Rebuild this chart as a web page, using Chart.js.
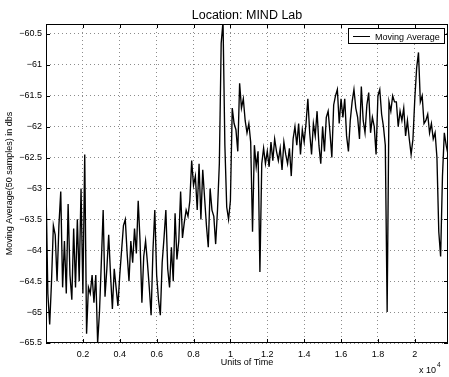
<!DOCTYPE html>
<html>
<head>
<meta charset="utf-8">
<script src="https://cdn.jsdelivr.net/npm/chart.js@4.4.0/dist/chart.umd.min.js"></script>
<style>
  html, body { margin: 0; padding: 0; background: #fff; }
  #wrap { width: 449px; height: 377px; }
</style>
</head>
<body>
<div id="wrap"><canvas id="mindChart" width="449" height="377"></canvas></div>
<script>
const chartTitle = "Location: MIND Lab";
const seriesLabel = "Moving Average";
const xAxisLabel = "Units of Time";
const yAxisLabel = "Moving Average(50 samples) in dbs";

// one reading every 100 samples
const sampleStep = 100;
const movingAverage = [
  -62.95, -64.7, -65.2, -64.5, -63.6, -63.75, -64.5, -63.6, -63.05, -64.6,
  -63.85, -64.7, -63.25, -64.4, -64.8, -63.65, -64.6, -63.5, -64.5, -63.0,
  -64.7, -62.45, -65.35, -64.6, -64.7, -64.4, -64.85, -64.4, -65.5, -65.0,
  -64.2, -63.35, -64.75, -64.3, -63.75, -64.4, -64.95, -64.3, -64.6, -64.9,
  -64.4, -64.0, -63.6, -63.5, -64.05, -64.5, -63.85, -64.2, -63.65, -64.05,
  -63.2, -63.85, -64.85, -64.1, -63.85, -64.2, -64.6, -65.05, -64.0, -63.35,
  -64.4, -64.8, -65.05, -64.2, -63.8, -63.35, -64.3, -64.6, -63.95, -64.5,
  -63.4, -64.15, -63.85, -63.05, -63.8, -63.55, -63.35, -63.45, -63.2, -62.55,
  -62.95, -62.8, -63.35, -62.6, -63.5, -62.7, -63.15, -63.6, -63.95, -63.0,
  -63.35, -63.45, -63.9, -63.35, -62.6, -60.65, -60.3, -62.3, -63.3, -63.5,
  -63.2, -61.7, -61.95, -62.05, -62.4, -61.3, -61.7, -61.55, -61.9, -62.1,
  -61.95, -62.25, -63.7, -62.3, -62.65, -62.4, -64.35, -62.6, -62.35, -62.6,
  -62.4, -62.65, -62.25, -62.55, -62.2, -62.4, -62.55, -62.35, -62.7, -62.25,
  -62.45, -62.6, -62.35, -62.8, -62.2, -62.0, -62.3, -61.95, -62.45, -62.05,
  -62.25, -61.95, -61.55, -62.1, -62.45, -61.95, -62.15, -61.75, -62.3, -62.6,
  -62.0, -62.4, -61.85, -61.75, -62.1, -62.5, -61.65, -61.5, -61.4, -61.95,
  -61.55, -61.85, -61.55, -62.15, -62.4, -61.9, -61.6, -61.4, -61.7, -61.85,
  -62.2, -61.35, -61.9, -62.1, -61.65, -61.45, -62.1, -61.85, -62.0, -62.45,
  -61.5, -61.4, -61.8, -62.0, -62.3, -65.0, -61.6, -61.75, -61.5, -61.6,
  -61.6, -62.0, -61.75, -61.9, -61.7, -62.15, -61.9, -62.2, -62.45, -62.2,
  -61.55, -61.05, -60.8, -61.6, -61.5, -61.95, -61.9, -61.8, -62.1, -61.95,
  -62.2, -62.1, -62.5, -63.7, -64.1, -62.8, -62.1, -62.3, -62.45
];

const xTickValues = [2000, 4000, 6000, 8000, 10000, 12000, 14000, 16000, 18000, 20000];
const yTickValues = [-65.5, -65, -64.5, -64, -63.5, -63, -62.5, -62, -61.5, -61, -60.5];
const xLimits = [0, 21800];
const yLimits = [-65.5, -60.34];

const FONT = "'Liberation Sans', Arial, Helvetica, sans-serif";

const points = movingAverage.map((v, i) => ({ x: i * sampleStep, y: v }));

// frame, inward ticks, legend, title and exponent, drawn like the matlab figure
const matlabFrame = {
  id: "matlabFrame",
  afterDatasetsDraw(chart) {
    const { ctx, chartArea: a, scales: { x, y } } = chart;
    ctx.save();
    ctx.strokeStyle = "#000";
    ctx.lineWidth = 1;
    ctx.strokeRect(a.left + 0.5, a.top + 0.5, a.right - a.left - 1, a.bottom - a.top - 1);

    ctx.beginPath();
    xTickValues.forEach(v => {
      const px = Math.round(x.getPixelForValue(v)) + 0.5;
      ctx.moveTo(px, a.bottom); ctx.lineTo(px, a.bottom - 4);
      ctx.moveTo(px, a.top); ctx.lineTo(px, a.top + 4);
    });
    yTickValues.forEach(v => {
      const py = Math.round(y.getPixelForValue(v)) + 0.5;
      ctx.moveTo(a.left, py); ctx.lineTo(a.left + 4, py);
      ctx.moveTo(a.right, py); ctx.lineTo(a.right - 4, py);
    });
    ctx.stroke();

    // legend box
    const lx = a.right - 100, ly = a.top + 4;
    ctx.fillStyle = "#fff";
    ctx.fillRect(lx, ly, 96, 15);
    ctx.strokeRect(lx + 0.5, ly + 0.5, 96, 15);
    ctx.beginPath();
    ctx.moveTo(lx + 5, ly + 8.5);
    ctx.lineTo(lx + 22, ly + 8.5);
    ctx.stroke();
    ctx.fillStyle = "#000";
    ctx.font = "9px " + FONT;
    ctx.textBaseline = "alphabetic";
    ctx.textAlign = "left";
    ctx.fillText(seriesLabel, lx + 27, ly + 11.5);

    // title
    ctx.font = "12.5px " + FONT;
    ctx.textAlign = "center";
    ctx.fillText(chartTitle, (a.left + a.right) / 2, 18.5);

    // x 10^4
    ctx.textAlign = "left";
    ctx.font = "9px " + FONT;
    ctx.fillText("x 10", 419, 373);
    ctx.font = "6.5px " + FONT;
    ctx.fillText("4", 437, 367);
    ctx.restore();
  }
};

new Chart(document.getElementById("mindChart"), {
  type: "line",
  data: {
    datasets: [{
      label: seriesLabel,
      data: points,
      borderColor: "#000",
      borderWidth: 1.35,
      pointRadius: 0,
      tension: 0,
      fill: false,
    }],
  },
  options: {
    responsive: false,
    animation: false,
    events: [],
    layout: { padding: { top: 24, right: 1, left: 0, bottom: 0 } },
    plugins: { legend: { display: false }, tooltip: { enabled: false }, title: { display: false } },
    scales: {
      x: {
        type: "linear",
        min: xLimits[0],
        max: xLimits[1],
        afterBuildTicks: s => { s.ticks = xTickValues.map(v => ({ value: v })); },
        afterFit: s => { s.height = 34; },
        ticks: {
          callback: v => String(v / 10000),
          color: "#000",
          font: { family: FONT, size: 9 },
          padding: 6,
          maxRotation: 0,
          autoSkip: false,
        },
        grid: { color: "#8c8c8c", lineWidth: 1, drawTicks: false },
        border: { display: false, dash: [1, 3] },
        title: {
          display: true,
          text: xAxisLabel,
          color: "#000",
          font: { family: FONT, size: 9 },
          padding: { top: 8.8, bottom: 8.8 },
        },
      },
      y: {
        type: "linear",
        min: yLimits[0],
        max: yLimits[1],
        afterBuildTicks: s => { s.ticks = yTickValues.map(v => ({ value: v })); },
        afterFit: s => { s.width = 46; },
        ticks: {
          callback: v => String(v).replace("-", "\u2212"),
          color: "#000",
          font: { family: FONT, size: 9 },
          padding: 4,
        },
        grid: { color: "#8c8c8c", lineWidth: 1, drawTicks: false },
        border: { display: false, dash: [1, 3] },
        title: {
          display: true,
          text: yAxisLabel,
          color: "#000",
          font: { family: FONT, size: 9 },
          padding: { top: 4.6, bottom: 4.6 },
        },
      },
    },
  },
  plugins: [matlabFrame],
});
</script>
</body>
</html>
